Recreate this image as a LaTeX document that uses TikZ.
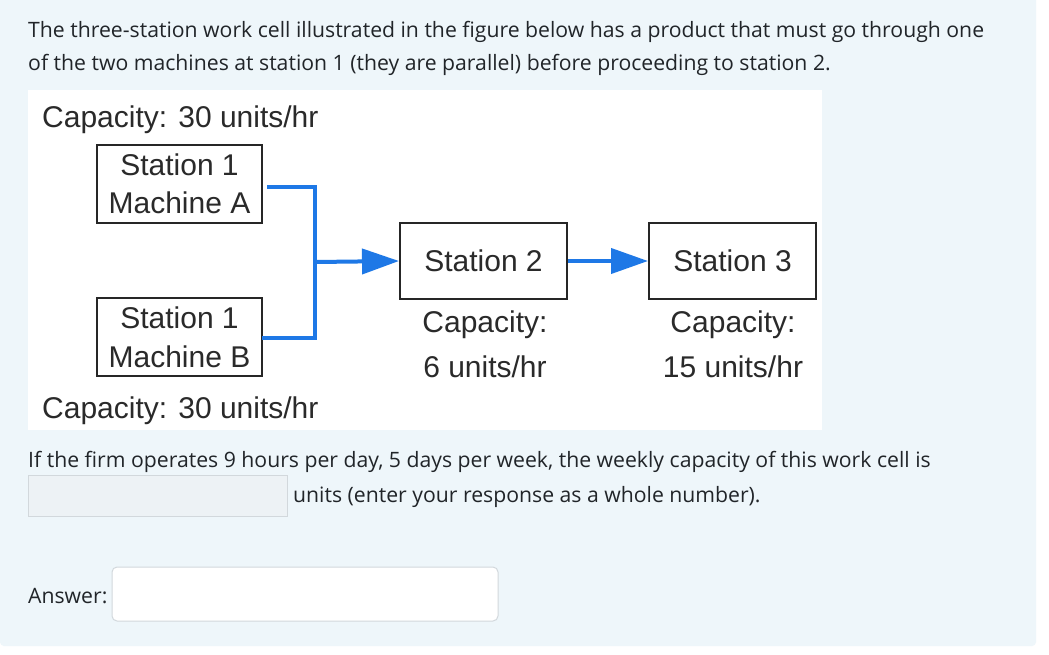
\documentclass[tikz,border=0pt]{standalone}
\usepackage{fontspec}
\setmainfont{Liberation Sans}
\newfontfamily\bodyfont{Open Sans}
\usetikzlibrary{arrows.meta}
\definecolor{pagebg}{HTML}{EEF6FA}
\definecolor{bodytext}{HTML}{212529}
\definecolor{figtext}{HTML}{2A2A2A}
\definecolor{flowblue}{HTML}{1E78E6}
\definecolor{inputfill}{HTML}{EDF2F5}
\definecolor{inputline}{HTML}{D2D8DC}
\tikzset{
  x=1pt, y=-1pt,
  body/.style={font=\bodyfont\fontsize{21.2}{25}\selectfont, text=bodytext, inner sep=0pt, anchor=base west},
  figlabel/.style={font=\fontsize{30}{36}\selectfont, text=figtext, inner sep=0pt},
  stationbox/.style={draw=black!85, line width=2pt, fill=white},
  conn/.style={draw=flowblue, line width=4pt},
  flowarrow/.style={conn, -{Triangle[length=37pt,width=25pt]}},
}
\begin{document}
\begin{tikzpicture}
\useasboundingbox (0,0) rectangle (1049,654);
\fill[white] (0,0) rectangle (1049,654);
\fill[pagebg, rounded corners=4pt] (0,-10) rectangle (1036,646);
% question text
\node[body] (q1) at (28,37) {The three-station work cell illustrated in the figure below has a product that must go through one};
\node[body] (q2) at (28,70) {of the two machines at station 1 (they are parallel) before proceeding to station 2.};
% figure panel
\fill[white] (28,90) rectangle (822,430);
\node[figlabel, anchor=base west] (capA) at (42,127) {Capacity: 30 units/hr};
\draw[stationbox] (97,145) rectangle (262,223);
\node[figlabel, anchor=base] (A1) at (179.5,175) {Station 1};
\node[figlabel, anchor=base] (A2) at (179.5,213) {Machine A};
\node[inner sep=0pt, minimum width=165pt, minimum height=78pt] (A) at (179.5,184) {};
\draw[stationbox] (97,298) rectangle (262,376);
\node[figlabel, anchor=base] (B1) at (179.5,328) {Station 1};
\node[figlabel, anchor=base] (B2) at (179.5,367) {Machine B};
\node[inner sep=0pt, minimum width=165pt, minimum height=78pt] (B) at (179.5,337) {};
\node[figlabel, anchor=base west] (capB) at (42,418) {Capacity: 30 units/hr};
\node[stationbox, figlabel, minimum width=167pt, minimum height=76pt] (S2) at (483.5,261) {Station 2};
\node[stationbox, figlabel, minimum width=167pt, minimum height=76pt] (S3) at (732.5,261) {Station 3};
\node[figlabel, anchor=base] (c2a) at (485,332) {Capacity:};
\node[figlabel, anchor=base] (c2b) at (485,377) {6 units/hr};
\node[figlabel, anchor=base] (c3a) at (733,332) {Capacity:};
\node[figlabel, anchor=base] (c3b) at (733,377) {15 units/hr};
\coordinate (jA) at (315,187);
\coordinate (jB) at (315,338);
\coordinate (jM) at (315,262);
\draw[conn] ([xshift=5pt,yshift=-3pt]A.east) -- (jA) -- (jB) -- ([yshift=-1pt]B.east);
\draw[flowarrow] (jM) -- (S2.west);
\draw[flowarrow] (S2.east) -- (S3.west);
% lower question text
\node[body] (q3) at (28,467) {If the firm operates 9 hours per day, 5 days per week, the weekly capacity of this work cell is};
\draw[fill=inputfill, draw=inputline, line width=1pt] (28,475) rectangle (287,516);
\node[inner sep=0pt, minimum width=259pt, minimum height=41pt] (in1) at (157.5,495.5) {};
\node[body] (q4) at (293,502) {units (enter your response as a whole number).};
\node[body] (ans) at (28,603) {Answer:};
\draw[fill=white, draw=inputline, line width=1pt, rounded corners=5pt] (112,567) rectangle (498,621);
\node[inner sep=0pt, minimum width=386pt, minimum height=54pt] (in2) at (305,594) {};
\end{tikzpicture}
\end{document}
